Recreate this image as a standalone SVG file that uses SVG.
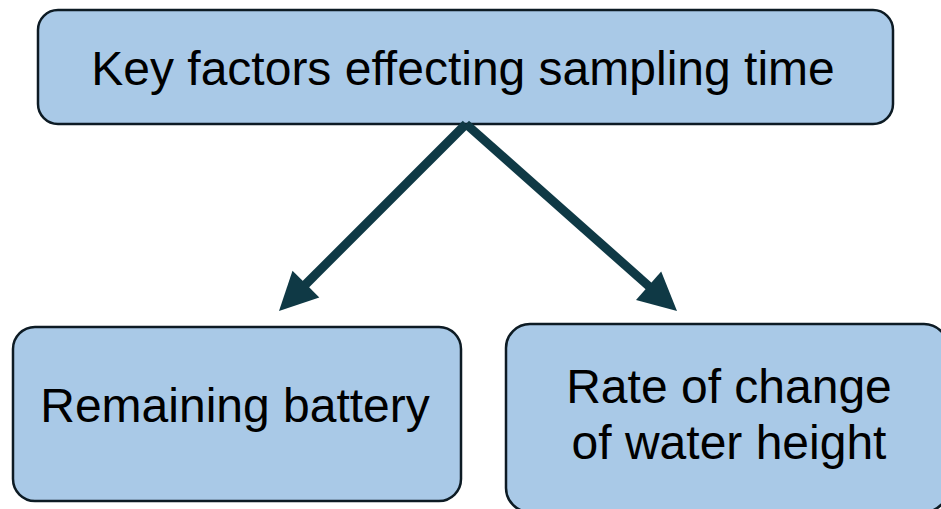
<svg xmlns="http://www.w3.org/2000/svg" width="941" height="509" viewBox="0 0 941 509">
<style>
.box{fill:#a9c9e7;stroke:#0d1b24;stroke-width:2.5}
.t{font-family:"Liberation Sans",Arial,sans-serif;font-size:48px;fill:#000;text-anchor:middle}
.c{stroke:#0f3945;stroke-width:9;fill:none}
.h{fill:#0f3945}
</style>
<rect width="941" height="509" fill="#fff"/>
<g id="node-top">
<rect class="box" x="38" y="10" width="855" height="114" rx="20"/>
<text class="t" x="463" y="85">Key factors effecting sampling time</text>
</g>
<g id="node-battery">
<rect class="box" x="13" y="327" width="448" height="174" rx="22"/>
<text class="t" x="235" y="422">Remaining battery</text>
</g>
<g id="node-water">
<rect class="box" x="506" y="324" width="442" height="188" rx="24"/>
<text class="t" x="729" y="403">Rate of change</text>
<text class="t" x="729" y="459">of water height</text>
</g>
<g id="connectors">
<path class="c" d="M466,124 L302,288"/>
<path class="h" d="M279,311 L292.5,270.7 L305.9,284.1 L319.3,297.5 Z"/>
<path class="c" d="M466,124 L652,289"/>
<path class="h" d="M677,311 L636,300 L648.6,285.8 L661.2,271.6 Z"/>
</g>
</svg>
